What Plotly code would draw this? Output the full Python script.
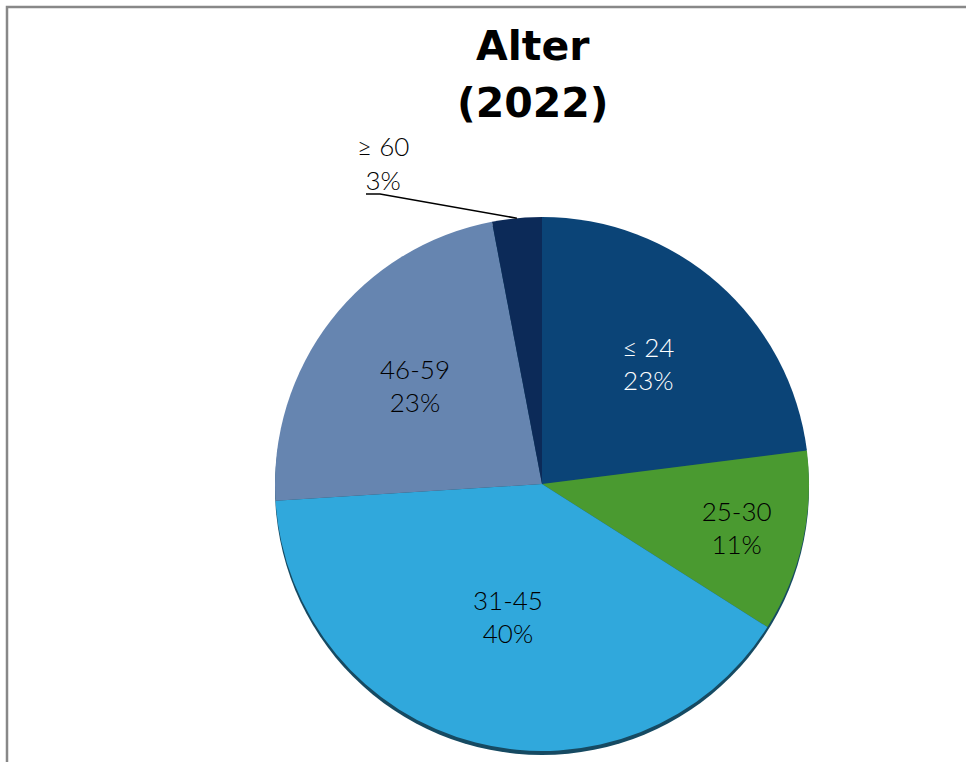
import math
import plotly.graph_objects as go

labels = ["≤ 24", "25-30", "31-45", "46-59", "≥ 60"]
values = [23, 11, 40, 23, 3]
colors = ["#0b4477", "#4a9a30", "#30a8dc", "#6685b0", "#0c2a58"]
text_colors = ["white", "black", "black", "black", "black"]
title_lines = ["Alter", "(2022)"]

W, H = 966, 762
cx, cy, R = 542, 484, 267  # pixel centre / radius of the pie

def dom(cx_, cy_, r_):
    return dict(x=[(cx_ - r_) / W, (cx_ + r_) / W],
                y=[1 - (cy_ + r_) / H, 1 - (cy_ - r_) / H])

def px(x):
    return x / W

def py(y):
    return 1 - y / H

label_font = dict(family="Lato, DejaVu Sans", size=26, color="black", weight=300)

fig = go.Figure()
# shadow rim below the pie
fig.add_trace(go.Pie(values=[1], marker=dict(colors=["#164a62"]), textinfo="none",
                     hoverinfo="skip", showlegend=False, domain=dom(cx, cy + 4, R), sort=False))
fig.add_trace(go.Pie(
    labels=labels, values=values, sort=False, direction="clockwise", rotation=0,
    marker=dict(colors=colors, line=dict(width=0)),
    texttemplate=["%{label}<br>%{percent:.0%}"] * 4 + [""],
    textposition=["inside"] * 4 + ["none"],
    insidetextorientation="horizontal",
    textfont=dict(family=label_font["family"], size=26, color=text_colors, weight=300),
    showlegend=False, domain=dom(cx, cy, R), hoverinfo="label+percent",
))

# leader-line label for the last (small) slice
total = sum(values)
mid = (sum(values[:-1]) + values[-1] / 2) / total * 2 * math.pi
ex = px(cx + R * math.sin(mid))
ey = py(cy - R * math.cos(mid))
fig.add_annotation(x=px(383), y=py(163), xref="paper", yref="paper",
                   text=f"{labels[-1]}<br>{values[-1] / total:.0%}",
                   showarrow=False, font=label_font, align="center",
                   xanchor="center", yanchor="middle")
fig.add_shape(type="path", xref="paper", yref="paper",
              path=f"M {px(366)},{py(194)} L {px(380)},{py(194)} L {ex},{ey}",
              line=dict(color="black", width=1.5))

# title (two lines)
for i, line in enumerate(title_lines):
    fig.add_annotation(x=px(533), y=py(20 + 57 * i), xref="paper", yref="paper",
                       text="<b>" + line + "</b>",
                       showarrow=False, xanchor="center", yanchor="top", align="center",
                       font=dict(family="DejaVu Sans", size=41, color="black"))

fig.add_shape(type="rect", xref="paper", yref="paper", x0=px(7), x1=1.05, y0=-0.05, y1=py(7),
              line=dict(color="#888888", width=2.5))

fig.update_layout(
    width=W, height=H, margin=dict(l=0, r=0, t=0, b=0),
    paper_bgcolor="white", plot_bgcolor="white",
)

fig.write_html("out.html", config={"displayModeBar": False},
               post_script="document.body.style.margin='0';")
